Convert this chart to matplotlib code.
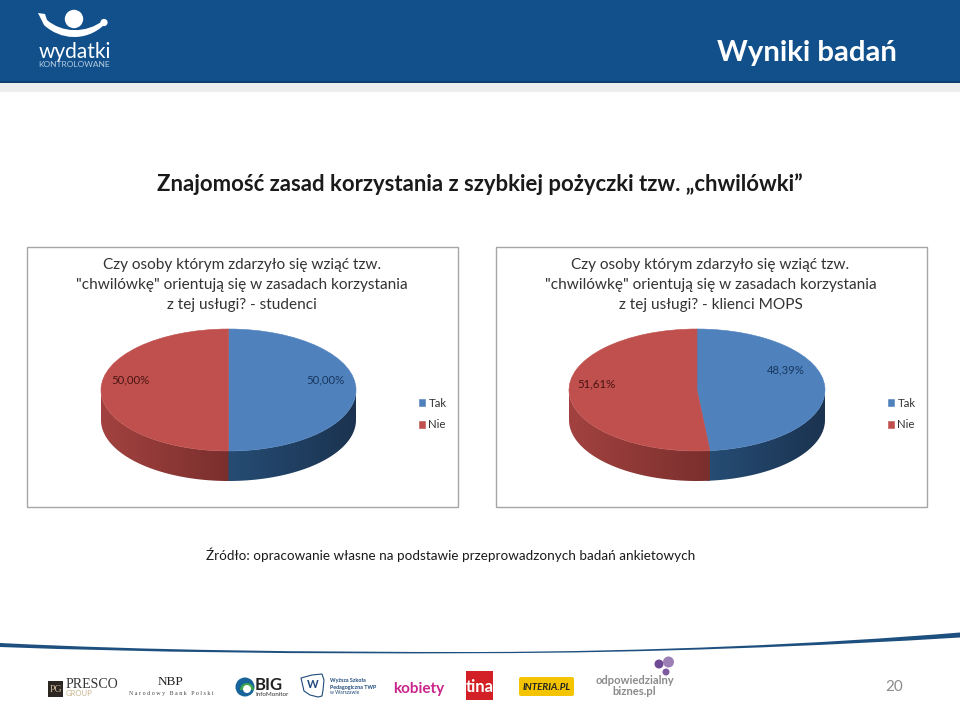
import numpy as np
import matplotlib
matplotlib.use('Agg')
import matplotlib.pyplot as plt
from matplotlib.patches import Rectangle, Circle, Polygon, PathPatch, FancyBboxPatch, Wedge
from matplotlib.path import Path

W, H = 960, 708

categories = ['Tak', 'Nie']
values_students = [50.00, 50.00]
values_mops = [48.39, 51.61]
title_students = 'Czy osoby którym zdarzyło się wziąć tzw.\n"chwilówkę" orientują się w zasadach korzystania\nz tej usługi? - studenci'
title_mops = 'Czy osoby którym zdarzyło się wziąć tzw.\n"chwilówkę" orientują się w zasadach korzystania\nz tej usługi? - klienci MOPS'

top_colors = ['#4F81BD', '#C0504D']
label_colors = ['#17375E', '#4A1513']

plt.rcParams['font.family'] = ['Lato', 'DejaVu Sans']

fig = plt.figure(figsize=(W / 100, H / 100), dpi=100)
bg = fig.add_axes([0, 0, 1, 1])
bg.set_xlim(0, W)
bg.set_ylim(H, 0)
bg.axis('off')


def wall(ax, a_start, a_end, d, col_start, col_end):
    # one slice of the side wall, gradient image clipped to the band
    ang = np.radians(np.linspace(a_start, a_end, 120))
    xs, ys = np.cos(ang), np.sin(ang)
    pts = list(zip(xs, ys)) + list(zip(xs[::-1], ys[::-1] - d))
    grad = np.linspace(matplotlib.colors.to_rgb(col_start), matplotlib.colors.to_rgb(col_end), 256)[None, :, :]
    if xs[0] > xs[-1]:
        grad = grad[:, ::-1, :]
    band = Polygon(pts, transform=ax.transData, fc='none', lw=0)
    ax.add_patch(band)
    im = ax.imshow(grad, extent=(xs.min(), xs.max(), -1 - d, 0), aspect='auto', interpolation='bilinear', zorder=0)
    im.set_clip_path(band)


def draw_pie(values, box_x, cx, cy, rx, ry, depth, title, label_xy, title_cx):
    # chart frame
    bg.add_patch(Rectangle((box_x, 247), 431, 260, fc='white', ec='#A6A6A6', lw=1))
    bg.text(title_cx, 285, title, ha='center', va='center', fontsize=11.1, color='#333333', linespacing=1.55)

    # pie axes stretched to an ellipse, extra room below for the wall
    d = depth / ry
    ax = fig.add_axes([(cx - rx) / W, 1 - (cy + ry + depth) / H, 2 * rx / W, (2 * ry + depth) / H], zorder=2)
    wedges, _ = ax.pie(values, colors=top_colors, startangle=90, counterclock=False, radius=1,
                       wedgeprops={'lw': 0.4})
    for w in wedges:
        w.set_edgecolor(w.get_facecolor())

    split = 90 - values[0] / sum(values) * 360
    # blue runs a little past the split so no gap shows, red goes on top
    wall(ax, 0, split - 1.5, d, '#1B3350', '#264D75')
    wall(ax, split, -180, d, '#7A2F2D', '#A24240')

    ax.set_aspect('auto')
    ax.set_xlim(-1, 1)
    ax.set_ylim(-1 - d, 1)
    ax.patch.set_alpha(0)

    # data labels
    for v, (lx, ly), c in zip(values, label_xy, label_colors):
        ax.text(lx, ly, f'{v:.2f}%'.replace('.', ','), ha='center', va='center', fontsize=8.2, color=c,
                transform=bg.transData, clip_on=False, zorder=5)
    # legend
    ax.legend(wedges, categories, loc='center left', frameon=False, fontsize=8.2,
              bbox_to_anchor=((box_x + 391.5) / W, 1 - 414 / H), bbox_transform=fig.transFigure,
              handlelength=0.55, handleheight=0.55, handletextpad=0.32, labelspacing=0.95,
              labelcolor='#333333', borderpad=0, borderaxespad=0)


# header
bg.add_patch(Rectangle((0, 0), W, 82, fc='#11508B', lw=0))
bg.add_patch(Rectangle((0, 81), W, 1.5, fc='#0E3F6E', lw=0))
bg.add_patch(Rectangle((0, 82.5), W, 9.5, fc='#EEEEEE', lw=0))
bg.text(806.5, 53, 'Wyniki badań', ha='center', va='center', color='white', fontsize=21.2, fontweight='bold')

# logo
bg.add_patch(Circle((74, 19), 9.2, fc='white', lw=0))
bg.add_patch(Circle((104, 22.5), 3.6, fc='white', lw=0))
bg.add_patch(PathPatch(Path([(38, 13), (45, 14), (47, 20), (62, 33), (86, 34), (104, 20), (104, 25), (86, 42), (60, 40), (44, 25), (38, 13)],
                            [Path.MOVETO, Path.LINETO, Path.LINETO, Path.CURVE4, Path.CURVE4, Path.CURVE4, Path.LINETO,
                             Path.CURVE4, Path.CURVE4, Path.CURVE4, Path.CLOSEPOLY]), fc='white', lw=0))
bg.text(74.5, 52, 'wydatki', ha='center', va='center', color='white', fontsize=15)
bg.text(74.5, 64.5, 'KONTROLOWANE', ha='center', va='center', color='#B8CCE0', fontsize=6)

bg.text(480, 184, 'Znajomość zasad korzystania z szybkiej pożyczki tzw. „chwilówki”', ha='center', va='center',
        fontsize=15.9, fontweight='bold', color='#1A1A1A')
bg.text(451, 555, 'Źródło: opracowanie własne na podstawie przeprowadzonych badań ankietowych', ha='center', va='center',
        fontsize=9.7, color='#1A1A1A')

draw_pie(values_students, 27, 228.5, 390, 127.5, 61, 30, title_students, [(325, 380), (130, 380)], 242)
draw_pie(values_mops, 496, 697, 390, 128, 61, 30, title_mops, [(786, 370), (596, 384)], 710.5)

# footer line
bg.add_patch(PathPatch(Path([(0, 643), (150, 650.5), (300, 652), (480, 652), (650, 651.5), (820, 644), (960, 632.5),
                             (960, 637.5), (820, 646), (650, 653), (480, 653.2), (300, 654), (150, 652.5), (0, 647), (0, 643)],
                            [Path.MOVETO] + [Path.CURVE4] * 6 + [Path.LINETO] + [Path.CURVE4] * 6 + [Path.CLOSEPOLY]),
                       fc='#1D4F7F', lw=0))

# footer logos
bg.add_patch(Rectangle((48, 681), 15, 16, fc='#2B2622', lw=0))
bg.text(55.5, 689, 'PG', ha='center', va='center', color='#CDBB99', fontsize=7, family='Liberation Serif')
bg.text(66, 685, 'PRESCO', ha='left', va='center', color='#333333', fontsize=10, family='Liberation Serif')
bg.text(66, 694, 'GROUP', ha='left', va='center', color='#C9B48C', fontsize=5.5)
bg.text(170.5, 682, 'NBP', ha='center', va='center', color='#222222', fontsize=9.5, family='Liberation Serif')
bg.text(171.5, 693.5, 'N a r o d o w y   B a n k   P o l s k i', ha='center', va='center', color='#444444', fontsize=4.3, family='Liberation Serif')
bg.add_patch(Circle((245, 687), 9.5, fc='#17639A', lw=0))
bg.add_patch(Wedge((247, 690), 7, 180, 360, fc='#3BA64A', lw=0))
bg.add_patch(Circle((247, 689), 4, fc='white', lw=0))
bg.text(255, 685, 'BIG', ha='left', va='center', color='#222222', fontsize=12, fontweight='bold')
bg.text(255, 695, 'InfoMonitor', ha='left', va='center', color='#333333', fontsize=4.5)
bg.add_patch(Polygon([(301, 678), (312, 675), (322, 674), (324, 680), (323, 690), (322, 696), (318, 697), (310, 695), (304, 691)],
                     fc='white', ec='#1F4A7A', lw=0.8))
bg.text(313, 685, 'W', ha='center', va='center', color='#1F4A7A', fontsize=8, fontweight='bold')
bg.text(330, 684, 'Wyższa Szkoła\nPedagogiczna TWP', ha='left', va='center', color='#1F4A7A', fontsize=3.9, fontweight='bold', linespacing=1.4)
bg.text(330, 693, 'w Warszawie', ha='left', va='center', color='#1F4A7A', fontsize=3.6)
bg.text(418.5, 689.5, 'kobiety', ha='center', va='center', color='#C9258A', fontsize=11, fontweight='bold')
bg.add_patch(Rectangle((466, 671), 27, 29, fc='#D32027', lw=0))
bg.text(479.5, 687, 'tina', ha='center', va='center', color='white', fontsize=12, fontweight='bold')
bg.add_patch(FancyBboxPatch((521, 679), 51, 15, boxstyle='round,pad=2', fc='#F5C400', lw=0))
bg.text(546.5, 687, 'INTERIA.PL', ha='center', va='center', color='#222222', fontsize=7, fontweight='bold', style='italic')
bg.text(634.5, 686, 'odpowiedzialny\nbiznes.pl', ha='center', va='center', color='#8C8C8C', fontsize=8.1, fontweight='bold', linespacing=0.95)
bg.add_patch(Circle((659, 664), 4.5, fc='#6F4A94', lw=0))
bg.add_patch(Circle((668.5, 662), 5.5, fc='#9C7FB5', lw=0))
bg.add_patch(Circle((666, 672), 3.5, fc='#7D5AA0', lw=0))
bg.text(894, 687, '20', ha='center', va='center', color='#8C8C8C', fontsize=11)

fig.savefig('out.png', dpi=100)
